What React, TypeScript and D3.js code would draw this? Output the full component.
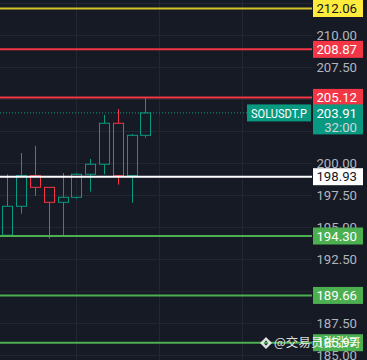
import React, {useEffect, useRef} from 'react'
import * as d3 from 'd3';

// candles, oldest first
const opens  = [194.36, 196.62, 199.01, 198.10, 196.93, 197.32, 199.12, 199.90, 203.10, 199.01, 202.16];
const highs  = [199.12, 200.78, 201.33, 198.10, 199.22, 199.20, 200.31, 203.75, 204.21, 202.26, 205.13];
const lows   = [194.30, 196.04, 197.45, 194.09, 194.30, 197.21, 197.76, 199.12, 198.31, 196.90, 201.97];
const closes = [196.62, 199.01, 198.10, 196.93, 197.32, 199.12, 199.90, 203.10, 199.01, 202.16, 203.91];

// horizontal levels drawn on the chart
const levelPrices = [212.06, 208.87, 205.12, 198.93, 194.30, 189.66, 185.97];
const levelKinds  = ['yellow', 'red', 'red', 'white', 'green', 'green', 'green'];

const gridPrices = [212.5, 210, 207.5, 205, 202.5, 200, 197.5, 195, 192.5, 190, 187.5, 185];
// labels that stay (at least partly) visible next to the level boxes
const priceTicks = [212.5, 210, 207.5, 200, 197.5, 195, 192.5, 190, 187.5, 185];
const timeGrid = [5, 11, 17];

const symbol = 'SOLUSDT.P';
const lastPrice = 203.91;
const countdown = '32:00';
const watermark = '@交易员张张哥';

const W = 367, H = 360;
const axisLeft = 312;

const colors = {
    bg: '#161a25',
    grid: '#232733',
    text: '#b2b5be',
    up: '#089981',
    down: '#f23645',
    yellow: '#d4c42a',
    yellowBox: '#ffeb3b',
    red: '#f23645',
    white: '#ffffff',
    green: '#4caf50',
};

export default function App(){
    const svgRef = useRef<SVGSVGElement>(null);

    useEffect(() => {
        const svg = d3.select(svgRef.current);
        svg.selectAll('*').remove();

        const y = d3.scaleLinear().domain([194.30, 212.06]).range([236, 8.5]);
        const x = d3.scaleLinear().domain([0, 10]).range([7.3, 145.3]);
        const bodyW = 10;
        const font = 'Roboto, "Liberation Sans", sans-serif';
        const fs = 13.2;

        svg.append('rect').attr('width', W).attr('height', H).attr('fill', colors.bg);

        // grid
        svg.append('g').selectAll('line').data(gridPrices).join('line')
            .attr('x1', 0).attr('x2', axisLeft)
            .attr('y1', d => Math.round(y(d)) + 0.5).attr('y2', d => Math.round(y(d)) + 0.5)
            .attr('stroke', colors.grid);
        svg.append('g').selectAll('line').data(timeGrid).join('line')
            .attr('x1', d => Math.round(x(d)) + 0.5).attr('x2', d => Math.round(x(d)) + 0.5)
            .attr('y1', 0).attr('y2', H)
            .attr('stroke', colors.grid);

        // tick labels
        svg.append('g').selectAll('text').data(priceTicks).join('text')
            .attr('x', 357).attr('y', d => y(d))
            .attr('dy', '0.35em')
            .attr('text-anchor', 'end')
            .attr('font-family', font).attr('font-size', fs)
            .attr('fill', colors.text)
            .text(d => d3.format('.2f')(d));

        // candles
        const candles = opens.map((o, i) => ({o, h: highs[i], l: lows[i], c: closes[i], i}));
        const cg = svg.append('g');
        candles.forEach(d => {
            const col = d.c >= d.o ? colors.up : colors.down;
            const cx = Math.round(x(d.i)) + 0.5;
            const top = y(Math.max(d.o, d.c)), bot = y(Math.min(d.o, d.c));
            cg.append('line').attr('x1', cx).attr('x2', cx).attr('y1', y(d.h)).attr('y2', top).attr('stroke', col);
            cg.append('line').attr('x1', cx).attr('x2', cx).attr('y1', bot).attr('y2', y(d.l)).attr('stroke', col);
            cg.append('rect')
                .attr('x', cx - bodyW / 2).attr('y', top)
                .attr('width', bodyW).attr('height', Math.max(1, bot - top))
                .attr('fill', 'none').attr('stroke', col).attr('stroke-width', 1);
        });

        // last price dotted line
        svg.append('line')
            .attr('x1', 0).attr('x2', 247)
            .attr('y1', y(lastPrice)).attr('y2', y(lastPrice))
            .attr('stroke', colors.up).attr('stroke-dasharray', '1 2');

        const lineCol = (k: string) => k === 'yellow' ? colors.yellow : (colors as any)[k];
        const boxCol = (k: string) => k === 'yellow' ? colors.yellowBox : (colors as any)[k];
        const txtCol = (k: string) => (k === 'yellow' || k === 'white') ? '#131722' : '#ffffff';

        // level lines
        svg.append('g').selectAll('line').data(levelPrices).join('line')
            .attr('x1', 0).attr('x2', axisLeft)
            .attr('y1', d => y(d)).attr('y2', d => y(d))
            .attr('stroke', (d, i) => lineCol(levelKinds[i]))
            .attr('stroke-width', 2);

        // level labels
        const lab = svg.append('g').selectAll('g').data(levelPrices).join('g')
            .attr('transform', d => `translate(${axisLeft},${y(d)})`);
        lab.append('rect')
            .attr('x', 1).attr('y', -8.5).attr('width', 50).attr('height', 17)
            .attr('fill', (d, i) => boxCol(levelKinds[i]));
        lab.append('text')
            .attr('x', 45).attr('dy', '0.35em')
            .attr('text-anchor', 'end')
            .attr('font-family', font).attr('font-size', fs)
            .attr('fill', (d, i) => txtCol(levelKinds[i]))
            .text(d => d3.format('.2f')(d));

        // last price label
        const ly = y(lastPrice);
        svg.append('rect').attr('x', 247).attr('y', ly - 8.5).attr('width', 64).attr('height', 17).attr('fill', colors.up);
        svg.append('text').attr('x', 251).attr('y', ly).attr('dy', '0.35em')
            .attr('textLength', 56).attr('lengthAdjust', 'spacingAndGlyphs')
            .attr('font-family', font).attr('font-size', fs).attr('fill', '#fff').text(symbol);
        svg.append('rect').attr('x', axisLeft + 1).attr('y', ly - 8.5).attr('width', 50).attr('height', 30).attr('fill', colors.up);
        svg.append('text').attr('x', 357).attr('y', ly).attr('dy', '0.35em').attr('text-anchor', 'end')
            .attr('font-family', font).attr('font-size', fs).attr('fill', '#fff').text(d3.format('.2f')(lastPrice));
        svg.append('text').attr('x', 357).attr('y', ly + 14.5).attr('dy', '0.35em').attr('text-anchor', 'end')
            .attr('font-family', font).attr('font-size', fs).attr('fill', '#d1d4dc').text(countdown);

        // watermark
        const wm = svg.append('g').attr('transform', 'translate(262,343)').attr('opacity', 0.85);
        wm.append('path')
            .attr('d', 'M0,-6 L6,0 L0,6 L-6,0 Z M0,-2.5 L2.5,0 L0,2.5 L-2.5,0 Z')
            .attr('fill', '#fff').attr('fill-rule', 'evenodd')
            .attr('transform', 'translate(4,0)');
        wm.append('text').attr('x', 12).attr('dy', '0.35em')
            .attr('font-family', '"Noto Sans CJK SC", sans-serif').attr('font-size', 12.5)
            .attr('fill', '#fff').text(watermark);
    });

    return (
        <svg
            ref={svgRef}
            width={W}
            height={H}
            style={{position: 'absolute', left: 0, top: 0}}
        >
        </svg>
    );
}
